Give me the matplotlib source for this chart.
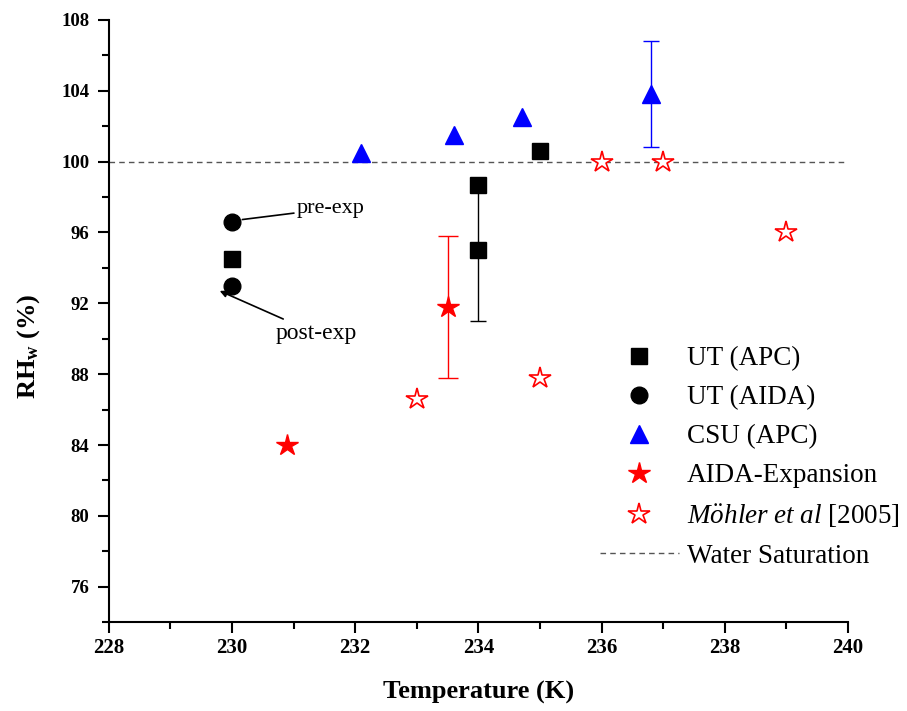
import matplotlib
matplotlib.use("Agg")
import matplotlib.pyplot as plt
from matplotlib.ticker import MultipleLocator

plt.rcParams['font.family'] = ['Liberation Serif', 'DejaVu Serif']
plt.rcParams['mathtext.fontset'] = 'custom'
plt.rcParams['mathtext.rm'] = 'Liberation Serif'
plt.rcParams['mathtext.it'] = 'Liberation Serif:italic'
plt.rcParams['mathtext.bf'] = 'Liberation Serif:bold'

# UT (APC) chamber
ut_apc_T = [230.0, 234.0, 234.0, 235.0]
ut_apc_RH = [94.5, 98.7, 95.0, 100.6]
ut_apc_err = [0.0, 0.0, 4.0, 0.0]

# UT (AIDA): pre- and post-expansion
ut_aida_T = [230.0, 230.0]
ut_aida_RH = [96.6, 93.0]

# CSU (APC)
csu_T = [232.1, 233.6, 234.7, 236.8]
csu_RH = [100.5, 101.5, 102.5, 103.8]
csu_err = [0.0, 0.0, 0.0, 3.0]

# AIDA expansion
aida_T = [230.9, 233.5]
aida_RH = [84.0, 91.8]
aida_err = [0.0, 4.0]

# Mohler et al 2005
mohler_T = [233.0, 235.0, 236.0, 237.0, 239.0]
mohler_RH = [86.6, 87.8, 100.0, 100.0, 96.0]

water_sat = 100.0

fig = plt.figure(figsize=(9.07, 7.11), dpi=100)
ax = fig.add_axes([0.120, 0.125, 0.815, 0.847])

ax.axhline(water_sat, color='#555555', lw=1.0, ls=(0, (4, 3)), label='Water Saturation', zorder=1)

# error bars only where err > 0
def bars(T, RH, err, color, cap):
    for t, r, e in zip(T, RH, err):
        if e > 0:
            ax.errorbar([t], [r], yerr=[e], fmt='none', ecolor=color, elinewidth=1.0,
                        capsize=cap, capthick=1.0, zorder=2)

bars(ut_apc_T, ut_apc_RH, ut_apc_err, 'black', 6)
bars(csu_T, csu_RH, csu_err, 'blue', 6)
bars(aida_T, aida_RH, aida_err, 'red', 7)

ax.plot(ut_apc_T, ut_apc_RH, 's', color='black', ms=11.5, ls='none', label='UT (APC)', zorder=3)
ax.plot(ut_aida_T, ut_aida_RH, 'o', color='black', ms=12, ls='none', label='UT (AIDA)', zorder=3)
ax.plot(csu_T, csu_RH, '^', color='blue', ms=13.5, ls='none', label='CSU (APC)', zorder=3)
ax.plot(aida_T, aida_RH, '*', color='red', ms=16, ls='none', label='AIDA-Expansion', zorder=3)
ax.plot(mohler_T, mohler_RH, '*', mfc='white', mec='red', mew=1.2, ms=16, ls='none',
        label=r'$\mathit{M\ddot{o}hler\ et\ al}$ [2005]', zorder=3)

ax.annotate('pre-exp', xy=(230.1, 96.7), xytext=(231.05, 97.35), fontsize=16,
            va='center', ha='left',
            arrowprops=dict(arrowstyle='-', color='black', lw=1.2, shrinkA=0, shrinkB=3))
ax.annotate('post-exp', xy=(229.8, 92.7), xytext=(230.7, 90.3), fontsize=17,
            va='center', ha='left',
            arrowprops=dict(arrowstyle='-|>', color='black', lw=1.2, mutation_scale=10,
                            shrinkA=2, shrinkB=0))

ax.set_xlim(228, 240)
ax.set_ylim(74, 108)
ax.xaxis.set_major_locator(MultipleLocator(2))
ax.xaxis.set_minor_locator(MultipleLocator(1))
ax.yaxis.set_major_locator(MultipleLocator(4))
ax.yaxis.set_minor_locator(MultipleLocator(2))
ax.set_yticks([76, 80, 84, 88, 92, 96, 100, 104, 108])

for s in ['top', 'right']:
    ax.spines[s].set_visible(False)
for s in ['left', 'bottom']:
    ax.spines[s].set_linewidth(1.5)

ax.tick_params(which='major', direction='out', length=8, width=1.5)
ax.tick_params(which='minor', direction='out', length=5, width=1.5)
ax.tick_params(axis='y', pad=6)
ax.tick_params(axis='x', labelsize=15)
ax.tick_params(axis='y', labelsize=13.5)
for lab in ax.get_xticklabels() + ax.get_yticklabels():
    lab.set_fontweight('bold')

ax.set_xlabel('Temperature (K)', fontsize=19, fontweight='bold')
ax.xaxis.set_label_coords(0.5, -0.097)
ax.set_ylabel(r'RH$_{\mathbf{w}}$ (%)', fontsize=19, fontweight='bold')
ax.yaxis.set_label_coords(-0.091, 0.457)

handles, labels = ax.get_legend_handles_labels()
order = [1, 2, 3, 4, 5, 0]
ax.legend([handles[i] for i in order], [labels[i] for i in order],
          loc='upper left', bbox_to_anchor=(600 / 907, 1 - 346 / 711),
          bbox_transform=fig.transFigure, frameon=False, fontsize=19.5,
          numpoints=1, handlelength=2.9, handletextpad=0.3, labelspacing=0.52,
          borderpad=0, borderaxespad=0)

fig.savefig('out.png', dpi=100)
